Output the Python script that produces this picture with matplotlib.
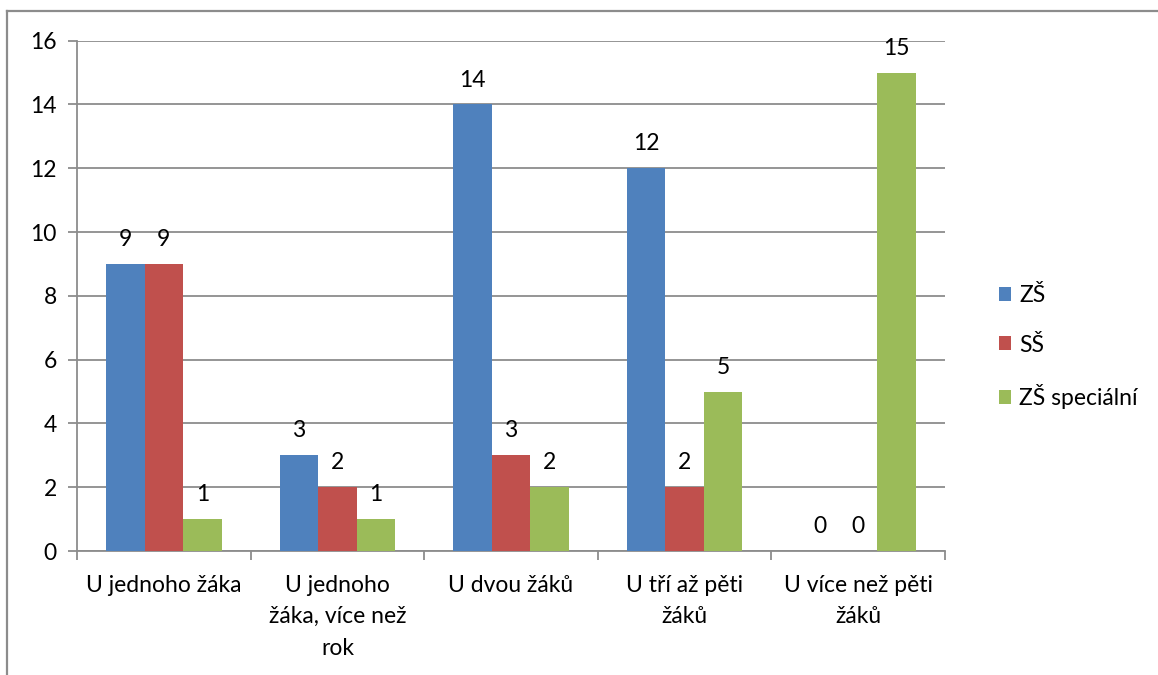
import matplotlib
matplotlib.use("Agg")
import matplotlib.pyplot as plt
from matplotlib.lines import Line2D
from matplotlib.patches import Patch
import numpy as np

categories = ["U jednoho žáka", "U jednoho\nžáka, více než\nrok", "U dvou žáků",
              "U tří až pěti\nžáků", "U více než pěti\nžáků"]
series_names = ["ZŠ", "SŠ", "ZŠ speciální"]
zs = [9, 3, 14, 12, 0]
ss = [9, 2, 3, 2, 0]
zs_spec = [1, 1, 2, 5, 15]
yticks = [0, 2, 4, 6, 8, 10, 12, 14, 16]

colors = ["#4F81BD", "#C0504D", "#9BBB59"]
grid_c = "#8C8C8C"
FONT = "Lato"
FS = 16.5

plt.rcParams['font.family'] = [FONT, 'DejaVu Sans']

fig = plt.figure(figsize=(11.58, 6.75), dpi=100)
ax = fig.add_axes([77/1158, 1-551/675, (945-77)/1158, (551-40.7)/675])

series = [zs, ss, zs_spec]
n = len(categories)
x = np.arange(n)
bw = 1/4.5
for i, (vals, c) in enumerate(zip(series, colors)):
    pos = x + (i-1)*bw
    ax.bar(pos, vals, width=bw, color=c, edgecolor='none', zorder=3, label=series_names[i])
    for p, v in zip(pos, vals):
        ax.annotate(str(v), (p, v), xytext=(0, 10), textcoords='offset points',
                    ha='center', va='bottom', fontsize=FS, color='black')

ax.set_xlim(-0.5, n-0.5)
ax.set_ylim(0, 16)
ax.set_yticks(yticks)
ax.yaxis.grid(True, color=grid_c, lw=1.3, zorder=0)
ax.tick_params(axis='y', length=6.5, width=1.3, color=grid_c, labelsize=FS, pad=8, labelcolor='black')

ax.set_xticks(x)
ax.set_xticklabels(categories, fontsize=FS, linespacing=1.62)
ax.tick_params(axis='x', which='major', length=0, pad=17)
ax.set_xticks(np.arange(n+1)-0.5, minor=True)
ax.tick_params(axis='x', which='minor', length=6.5, width=1.3, color=grid_c)

for s in ['top', 'right']:
    ax.spines[s].set_visible(False)
for s in ['left', 'bottom']:
    ax.spines[s].set_color(grid_c)
    ax.spines[s].set_linewidth(1.3)

handles = [Patch(facecolor=c, edgecolor='none') for c in colors]
fig.legend(handles, series_names, loc='center left', bbox_to_anchor=(978/1158, 1-347/675),
           frameon=False, fontsize=FS, handlelength=0.55, handleheight=0.55,
           handletextpad=0.35, labelspacing=1.25)

# outer chart border (top and left visible)
fig.add_artist(Line2D([7/1158, 7/1158], [0, 1-11/675], color="#8C8C8C", lw=1.6, transform=fig.transFigure))
fig.add_artist(Line2D([7/1158, 1], [1-11/675, 1-11/675], color="#8C8C8C", lw=1.6, transform=fig.transFigure))

fig.savefig("out.png", dpi=100)
